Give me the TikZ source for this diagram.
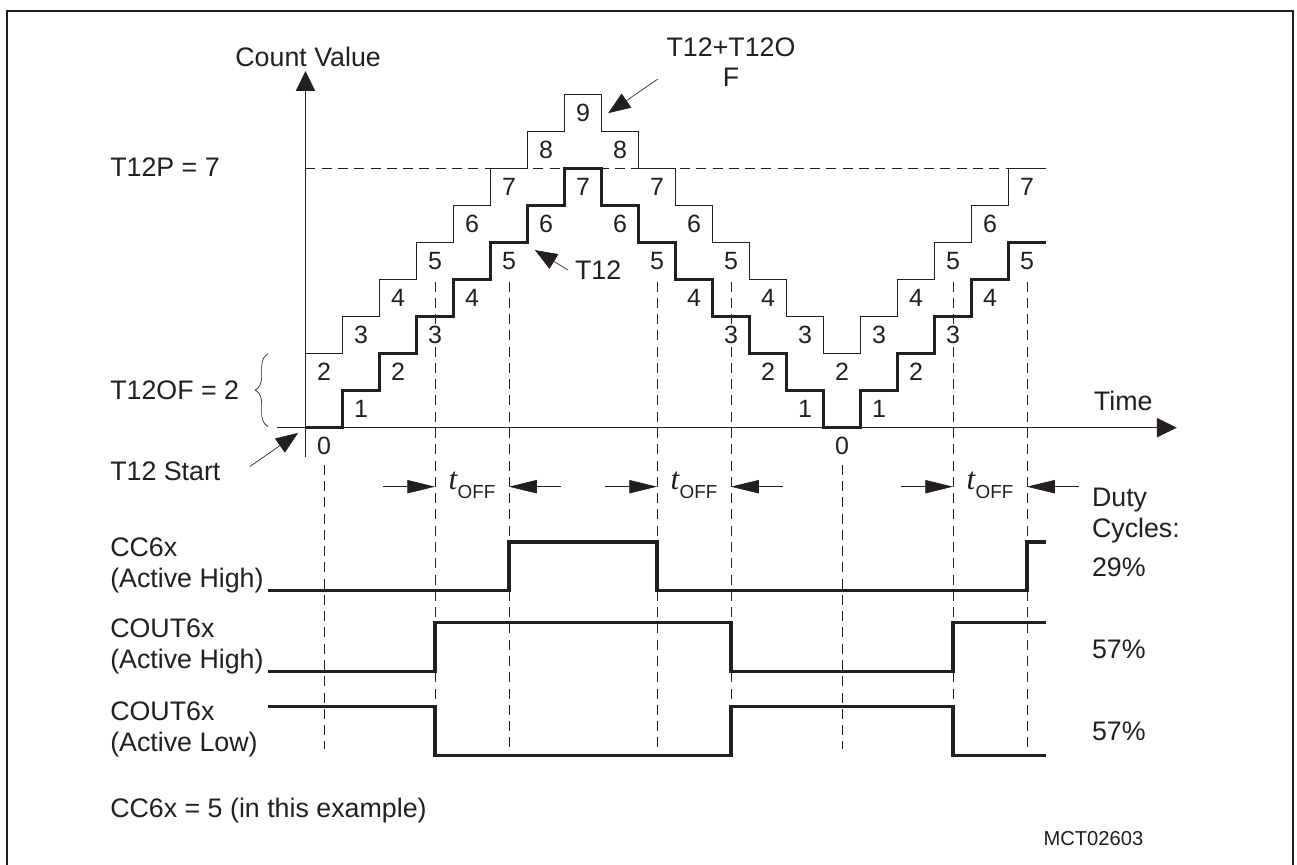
\documentclass[tikz,border=0pt]{standalone}
\usepackage{fontspec}
\setmainfont{Liberation Sans}
\newfontfamily\timesface{Liberation Serif}
\usetikzlibrary{arrows.meta,decorations.pathreplacing}
\definecolor{ink}{RGB}{35,31,32}

\begin{document}
\begin{tikzpicture}[
  x=1cm,y=1cm,
  every node/.style={font=\fontsize{20.6}{23.6}\selectfont,text=ink,inner sep=0pt},
  digit/.style={font=\fontsize{19.2}{21}\selectfont,fill=white,inner sep=1pt},
  axis/.style={-{Triangle[length=5.4mm,width=5.2mm]},line width=.8pt,ink},
  thinstep/.style={line width=.7pt,ink},
  thickstep/.style={line width=2.4pt,ink},
  guide/.style={line width=.6pt,ink,dash pattern=on 2.7mm off 1.7mm},
  pointer/.style={-{Triangle[length=6mm,width=4.6mm]},line width=.5pt,ink},
  toff/.style={-{Triangle[length=7.5mm,width=3.6mm]},line width=.6pt,ink},
  wave/.style={line width=2.4pt,ink}
]
\path[use as bounding box] (-8.257,-11.819) rectangle (26.797,11.559);
\fill[white] (-8.257,-11.819) rectangle (26.797,11.559);
\draw[line width=1.3pt,ink] (-8.076,-12.1) rectangle (26.697,11.262);

% Axes of the counter diagram, one grid unit per count and per clock.
\draw[axis] (0,-.8) -- (0,9.64) coordinate (ytip);
\draw[axis] (-.78,0) -- (23.55,0) coordinate (xtip);
\node (countlbl) at (.07,10.03) {Count Value};
\node (timelbl) at (22.1,.73) {Time};

% Compare instants and period level.
\draw[guide] (0,7) -- (20,7);
\foreach \x in {0.5,14.5} \draw[guide] (\x,-1) -- (\x,-8.69);
\foreach \x in {3.5,5.5,9.5,11.5,17.5,19.5} \draw[guide] (\x,3.95) -- (\x,-8.69);

% T12+T12OF (thin) and T12 (thick) in center-aligned mode.
\draw[thinstep] (0,2) \foreach \v [count=\i from 0] in {2,3,4,5,6,7,8,9,8,7,6,5,4,3,2,3,4,5,6,7} { -- (\i,\v) -- (\i+1,\v) };
\draw[thickstep] (0,0) \foreach \v [count=\i from 0] in {0,1,2,3,4,5,6,7,6,5,4,3,2,1,0,1,2,3,4,5} { -- (\i,\v) -- (\i+1,\v) };
\foreach \v [count=\i from 0] in {2,3,4,5,6,7,8,9,8,7,6,5,4,3,2,3,4,5,6,7}
  \node[digit] (hi\i) at (\i+.5,\v-.5) {\v};
\foreach \v [count=\i from 0] in {0,1,2,3,4,5,6,7,6,5,4,3,2,1,0,1,2,3,4,5}
  \node[digit] (lo\i) at (\i+.5,\v-.5) {\v};

% Left-hand annotations.
\node[anchor=west] (perlbl) at (-5.284,7.04) {T12P = 7};
\node[anchor=west] (ofslbl) at (-5.284,1.02) {T12OF = 2};
\draw[decorate,decoration={brace,amplitude=3.5mm},line width=.5pt,ink] (-1.01,.03) -- (-1.01,2);
\node[anchor=west] (startlbl) at (-5.284,-1.18) {T12 Start};
\coordinate (starttail) at (-1.5,-1.05);
\coordinate (starttip) at (-.2,-.14);
\draw[pointer] (starttail) -- (starttip);

% Pointers to the two counts.
\node[anchor=west] (t12lbl) at (7.28,4.26) {T12};
\coordinate (t12tip) at (6.2,4.8);
\draw[pointer] ([xshift=-1.8mm]t12lbl.west) -- (t12tip);
\node[align=center] (sumlbl) at (11.5,9.88) {T12+T12O\\F};
\coordinate (sumtail) at (9.52,9.42);
\coordinate (sumtip) at (8.18,8.5);
\draw[pointer] (sumtail) -- (sumtip);

% Dead times between the compare edges.
\foreach \a/\b [count=\k] in {3.5/5.5,9.5/11.5,17.5/19.5} {
  \draw[toff] (\a-1.4,-1.595) -- (\a,-1.595);
  \draw[toff] (\b+1.4,-1.595) -- (\b,-1.595);
  \node[anchor=base] (toff\k) at ({(\a+\b)/2},-1.684)
    {{\timesface\itshape\fontsize{24}{26}\selectfont t}\kern.3pt\raisebox{-6.4pt}{\fontsize{14.5}{15}\selectfont OFF}};
}

% Output waveforms.
\draw[wave] (-1.005,-4.405) -- (5.5,-4.405) -- (5.5,-3.09) -- (9.5,-3.09) -- (9.5,-4.405)
  -- (19.5,-4.405) -- (19.5,-3.09) -- (20,-3.09);
\draw[wave] (-1.005,-6.595) -- (3.5,-6.595) -- (3.5,-5.27) -- (11.5,-5.27) -- (11.5,-6.595)
  -- (17.5,-6.595) -- (17.5,-5.27) -- (20,-5.27);
\draw[wave] (-1.005,-7.54) -- (3.5,-7.54) -- (3.5,-8.865) -- (11.5,-8.865) -- (11.5,-7.54)
  -- (17.5,-7.54) -- (17.5,-8.865) -- (20,-8.865);
\node[anchor=west,align=left] (cclbl) at (-5.284,-3.72) {CC6x\\(Active High)};
\node[anchor=west,align=left] (couthlbl) at (-5.284,-5.92) {COUT6x\\(Active High)};
\node[anchor=west,align=left] (coutllbl) at (-5.284,-8.16) {COUT6x\\(Active Low)};
\node[anchor=west] (notelbl) at (-5.284,-10.34) {CC6x = 5 (in this example)};

% Duty cycles.
\node[anchor=west,align=left] (dutylbl) at (21.25,-2.38) {Duty\\Cycles:};
\node[anchor=west] (duty1) at (21.25,-3.76) {29\%};
\node[anchor=west] (duty2) at (21.25,-5.98) {57\%};
\node[anchor=west] (duty3) at (21.25,-8.22) {57\%};
\node[anchor=west,font=\fontsize{15.5}{18}\selectfont] (figid) at (19.94,-11.1) {MCT02603};
\end{tikzpicture}
\end{document}
